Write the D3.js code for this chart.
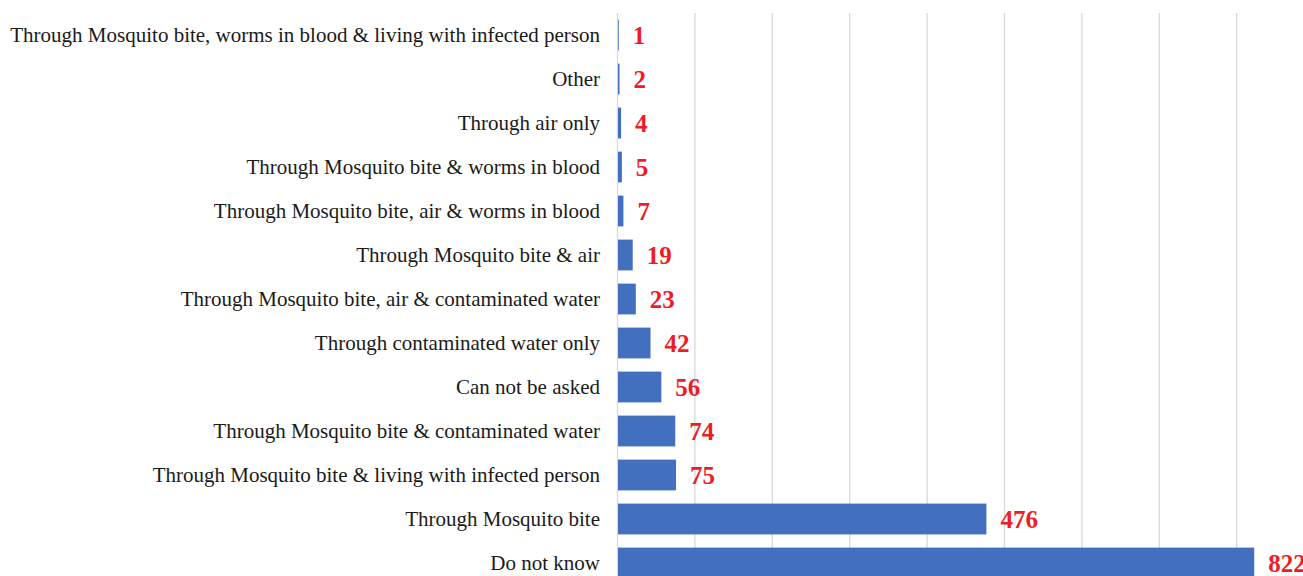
<!DOCTYPE html>
<html>
<head>
<meta charset="utf-8">
<script src="https://cdn.jsdelivr.net/npm/d3@7"></script>
<style>
    body { margin: 0; background: #fff; }
    svg { display: block; }
</style>
</head>
<body>
<div id="chart"></div>
<script>
// categories top to bottom
var gCategories = [
    'Through Mosquito bite, worms in blood & living with infected person',
    'Other',
    'Through air only',
    'Through Mosquito bite & worms in blood',
    'Through Mosquito bite, air & worms in blood',
    'Through Mosquito bite & air',
    'Through Mosquito bite, air & contaminated water',
    'Through contaminated water only',
    'Can not be asked',
    'Through Mosquito bite & contaminated water',
    'Through Mosquito bite & living with infected person',
    'Through Mosquito bite',
    'Do not know'
];

var gValues = [1, 2, 4, 5, 7, 19, 23, 42, 56, 74, 75, 476, 822];

var gTicks = [0, 100, 200, 300, 400, 500, 600, 700, 800, 900];

var gSettings = {
    width : 1303,
    height : 576,
    margin : { top : 13, left : 617 },
    rowStep : 44,
    pxPerHundred : 77.4
};

function drawChart(){
    var svg = d3.select('#chart').append('svg')
        .attr('width', gSettings.width)
        .attr('height', gSettings.height);

    var x = d3.scaleLinear()
        .domain([0, 900])
        .range([gSettings.margin.left, gSettings.margin.left + 9 * gSettings.pxPerHundred]);

    var y = d3.scaleBand()
        .domain(gCategories)
        .range([gSettings.margin.top, gSettings.margin.top + gCategories.length * gSettings.rowStep])
        .paddingInner(0.3)
        .paddingOuter(0.15);

    // vertical gridlines
    svg.append('g')
        .selectAll('line')
        .data(gTicks)
        .enter().append('line')
        .attr('x1', function(d){ return x(d) + 0.5; })
        .attr('x2', function(d){ return x(d) + 0.5; })
        .attr('y1', y.range()[0])
        .attr('y2', y.range()[1])
        .attr('stroke', '#d9d9d9')
        .attr('stroke-width', 1.3);

    var rows = gCategories.map(function(c, i){ return { name : c, value : gValues[i] }; });

    // bars
    svg.append('g')
        .selectAll('rect')
        .data(rows)
        .enter().append('rect')
        .attr('x', x(0) + 1)
        .attr('y', function(d){ return y(d.name); })
        .attr('width', function(d){ return x(d.value) - x(0); })
        .attr('height', y.bandwidth())
        .attr('fill', '#4270bf');

    // category labels
    svg.append('g')
        .selectAll('text')
        .data(rows)
        .enter().append('text')
        .attr('x', x(0) - 17)
        .attr('y', function(d){ return y(d.name) + y.bandwidth() / 2; })
        .attr('dy', '0.34em')
        .attr('text-anchor', 'end')
        .style('font-family', '"Liberation Serif", "Times New Roman", serif')
        .style('font-size', '21px')
        .style('fill', '#1a1a1a')
        .text(function(d){ return d.name; });

    // value labels
    svg.append('g')
        .selectAll('text')
        .data(rows)
        .enter().append('text')
        .attr('x', function(d){ return x(d.value) + 15; })
        .attr('y', function(d){ return y(d.name) + y.bandwidth() / 2; })
        .attr('dy', '0.36em')
        .style('font-family', '"Liberation Serif", "Times New Roman", serif')
        .style('font-size', '25px')
        .style('font-weight', 'bold')
        .style('fill', '#ee1c25')
        .text(function(d){ return d.value; });
}

drawChart();
</script>
</body>
</html>
